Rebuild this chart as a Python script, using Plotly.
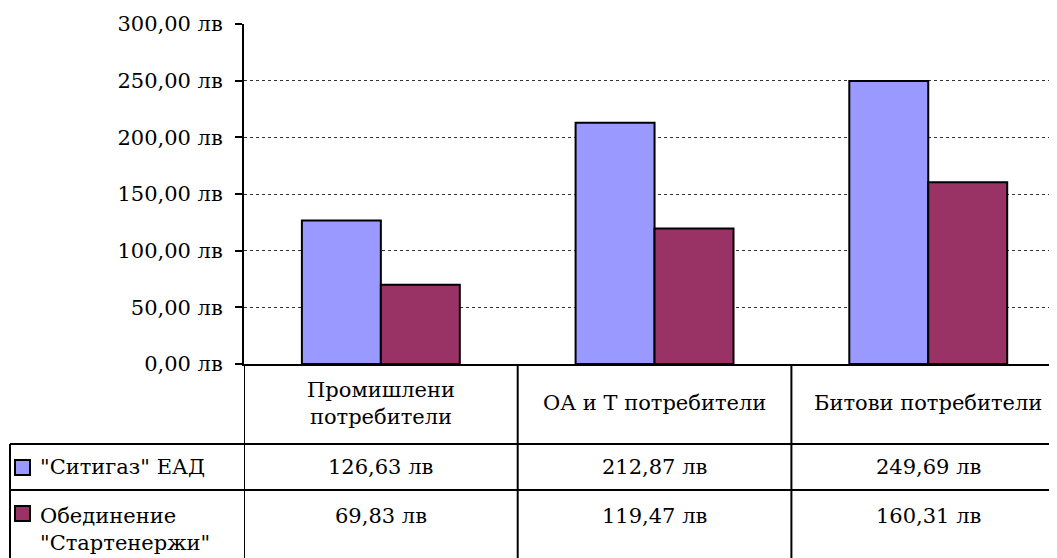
import plotly.graph_objects as go

# ---- data ----
categories = ["Промишлени<br>потребители", "ОА и Т потребители", "Битови потребители"]
series_names = ['"Ситигаз" ЕАД', 'Обединение<br>"Стартенержи"']
citygas = [126.63, 212.87, 249.69]
startenergy = [69.83, 119.47, 160.31]
tick_vals = [0, 50, 100, 150, 200, 250, 300]
tick_text = ["0,00 лв", "50,00 лв", "100,00 лв", "150,00 лв", "200,00 лв", "250,00 лв", "300,00 лв"]

colors = ["#9999FF", "#993366"]
FONT = "DejaVu Serif"
FS = 21

OFF = 8                      # page body margin
PAGE_W, PAGE_H = 1057, 558
W, H = PAGE_W - OFF, PAGE_H - OFF
X0, Y0, YTOP = 244, 364, 24  # plot area in page pixels
L, T = X0 - OFF, YTOP - OFF
B = H - (Y0 - OFF)
PW = W - L
PH = H - T - B
CAT_PX = 273.7


def py(p):
    return (Y0 - p) / PH


def px(p):
    return (p - X0) / PW


def lev(v):
    return f"{v:.2f}".replace(".", ",") + " лв"


x_idx = list(range(len(categories)))
fig = go.Figure()
for name, vals, c in zip(series_names, [citygas, startenergy], colors):
    fig.add_trace(go.Bar(x=x_idx, y=vals, name=name, marker=dict(color=c, line=dict(color="black", width=2)),
                         hoverinfo="skip"))

shapes = []
line = dict(color="black", width=2)
for xv in [-0.5] + [i + 0.5 for i in x_idx[:-1]]:
    shapes.append(dict(type="line", xref="x", yref="paper", x0=xv, x1=xv, y0=py(364), y1=py(PAGE_H + 2), line=line))
for yy in [444, 490]:
    shapes.append(dict(type="line", xref="paper", yref="paper", x0=px(10), x1=1, y0=py(yy), y1=py(yy), line=line))
shapes.append(dict(type="line", xref="paper", yref="paper", x0=px(10), x1=px(10), y0=py(444), y1=py(PAGE_H + 2),
                   line=line))
for c, (y0, y1) in zip(colors, [(460, 475), (506, 521)]):
    shapes.append(dict(type="rect", xref="paper", yref="paper", x0=px(15), x1=px(30), y0=py(y1), y1=py(y0),
                       fillcolor=c, line=dict(color="black", width=2)))

ann = []
f = dict(family=FONT, size=FS, color="black")
for i, cat in enumerate(categories):
    ann.append(dict(x=i, y=py(403), xref="x", yref="paper", text=cat, showarrow=False, font=f,
                    xanchor="center", yanchor="middle", align="center"))
    ann.append(dict(x=i, y=py(467), xref="x", yref="paper", text=lev(citygas[i]), showarrow=False, font=f,
                    xanchor="center", yanchor="middle"))
    ann.append(dict(x=i, y=py(502), xref="x", yref="paper", text=lev(startenergy[i]), showarrow=False, font=f,
                    xanchor="center", yanchor="top"))
ann.append(dict(x=px(38), y=py(467), xref="paper", yref="paper", text=series_names[0], showarrow=False, font=f,
                xanchor="left", yanchor="middle", align="left"))
ann.append(dict(x=px(38), y=py(502), xref="paper", yref="paper", text=series_names[1], showarrow=False, font=f,
                xanchor="left", yanchor="top", align="left"))

fig.update_layout(
    width=W, height=H, autosize=False,
    margin=dict(l=L, r=0, t=T, b=B, pad=0),
    paper_bgcolor="white", plot_bgcolor="white",
    showlegend=False,
    barmode="group", bargap=0.423, bargroupgap=0,
    shapes=shapes, annotations=ann,
    font=dict(family=FONT, size=FS, color="black"),
)
fig.update_xaxes(range=[-0.5, -0.5 + PW / CAT_PX], showticklabels=False, showgrid=False, zeroline=False,
                 showline=True, linecolor="black", linewidth=2, ticks="")
fig.update_yaxes(range=[0, 300], tickvals=tick_vals, ticktext=tick_text, showline=True, linecolor="black",
                 linewidth=2, ticks="outside", ticklen=7, tickwidth=2, tickcolor="black",
                 showgrid=True, gridcolor="#333333", griddash="dot", gridwidth=1, zeroline=False,
                 ticklabelstandoff=8, tickfont=dict(family=FONT, size=FS, color="black"))

fig.write_html("out.html")
